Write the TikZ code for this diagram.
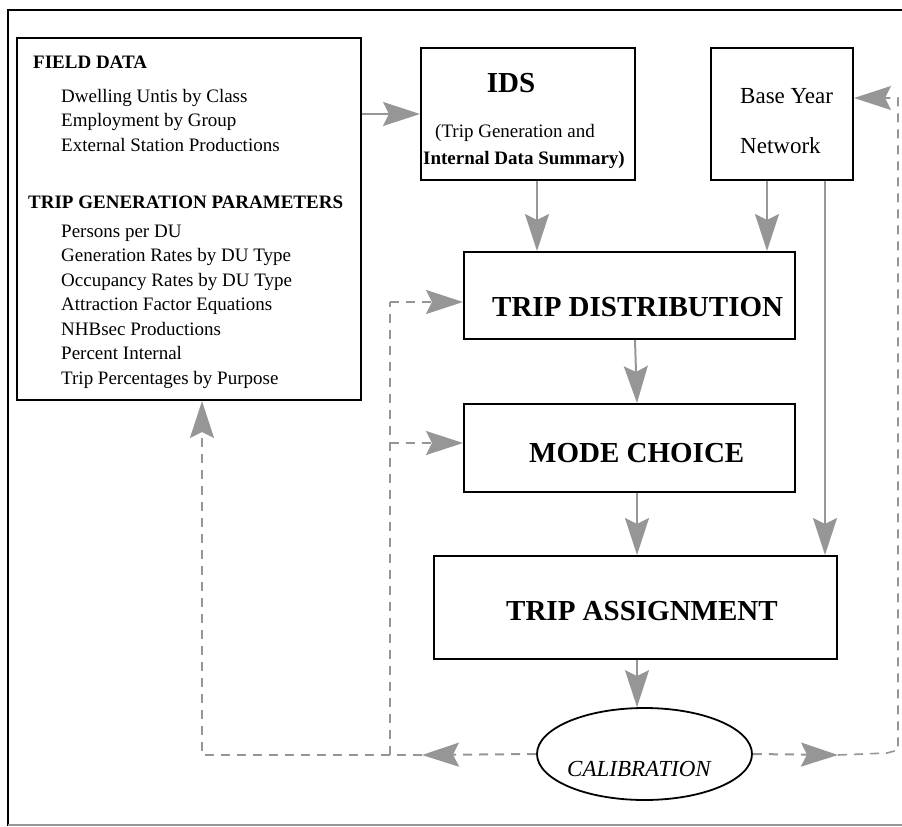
\documentclass[tikz,border=0pt]{standalone}
\usepackage{fontspec}
\setmainfont{Liberation Serif}
\usetikzlibrary{arrows.meta,shapes.geometric}
\definecolor{lgray}{RGB}{150,150,150}
\begin{document}
\begin{tikzpicture}[x=1pt,y=-1pt,
  box/.style={draw=black,line width=2pt,rectangle,inner sep=0pt},
  arr/.style={-{Stealth[length=37pt,width=24pt,inset=6pt]}},
  gl/.style={draw=lgray,line width=2pt},
  dsh/.style={gl,dash pattern=on 9pt off 7pt},
  lbl/.style={anchor=base west,inner sep=0pt,font=\fontsize{19}{19}\selectfont},
  hd/.style={anchor=base west,inner sep=0pt,font=\fontsize{19}{19}\selectfont\bfseries},
  big/.style={anchor=base west,inner sep=0pt,font=\fontsize{29}{29}\selectfont\bfseries}]
\useasboundingbox (0,0) rectangle (902,827);
% outer frame
\draw[line width=2pt] (902,10) -- (8,10) -- (8,826);
\draw[lgray,line width=2pt] (8,825) -- (902,825);
% boxes
\node[box,minimum width=344pt,minimum height=362pt] (left) at (189,219) {};
\node[box,minimum width=214pt,minimum height=132pt] (ids) at (528,114) {};
\node[box,minimum width=142pt,minimum height=132pt] (base) at (782,114) {};
\node[box,minimum width=331pt,minimum height=87pt] (td) at (629.5,295.5) {};
\node[box,minimum width=331pt,minimum height=88pt] (mc) at (629.5,448) {};
\node[box,minimum width=403pt,minimum height=103pt] (ta) at (635.5,607.5) {};
\node[draw=black,line width=1.8pt,ellipse,minimum width=215pt,minimum height=92pt,inner sep=0pt] (cal) at (644.5,754) {};
% left box text
\node[hd] (fd) at (33,68) {FIELD DATA};
\node[lbl] (f1) at (61,102) {Dwelling Untis by Class};
\node[lbl] (f2) at (61,126.5) {Employment by Group};
\node[lbl] (f3) at (61,151) {External Station Productions};
\node[hd] (tg) at (28,208) {TRIP GENERATION PARAMETERS};
\node[lbl] (t1) at (61,237) {Persons per DU};
\node[lbl] (t2) at (61,261.5) {Generation Rates by DU Type};
\node[lbl] (t3) at (61,286) {Occupancy Rates by DU Type};
\node[lbl] (t4) at (61,310.5) {Attraction Factor Equations};
\node[lbl] (t5) at (61,335) {NHBsec Productions};
\node[lbl] (t6) at (61,359.5) {Percent Internal};
\node[lbl] (t7) at (61,384) {Trip Percentages by Purpose};
% IDS text
\node[anchor=base,inner sep=0pt,font=\fontsize{29}{29}\selectfont\bfseries] (idst) at (511,92) {IDS};
\node[lbl] (ids1) at (435,137) {(Trip Generation and};
\node[hd] (ids2) at (423,164) {Internal Data Summary)};
% base year text
\node[anchor=base west,inner sep=0pt,font=\fontsize{23}{23}\selectfont] (by1) at (740,103) {Base Year};
\node[anchor=base west,inner sep=0pt,font=\fontsize{23}{23}\selectfont] (by2) at (740,153) {Network};
% main labels
\node[big] (tdt) at (492,316) {TRIP DISTRIBUTION};
\node[big] (mct) at (529,462) {MODE CHOICE};
\node[big] (tat) at (506,620) {TRIP ASSIGNMENT};
\node[anchor=base west,inner sep=0pt,font=\fontsize{23}{23}\selectfont\itshape] (calt) at (567,776) {CALIBRATION};
% helper coordinates
\coordinate (xa) at (537,0);
\coordinate (xb) at (767,0);
\coordinate (xc) at (825,0);
\coordinate (xd) at (637,0);
\coordinate (xe) at (635,0);
\coordinate (cl) at (422,755);
\coordinate (lx) at (202,755);
\coordinate (mv) at (390,755);
\coordinate (mt) at (390,302);
\coordinate (mm) at (390,443);
\coordinate (cr) at (838,755);
\coordinate (r1) at (887,753);
\coordinate (r2) at (898,750);
\coordinate (r3) at (898,98);
% solid connectors
\draw[gl,arr] (left.east |- 0,114) -- (ids.west |- 0,114);
\draw[gl,arr] (ids.south -| xa) -- (td.north -| xa);
\draw[gl,arr] (base.south -| xb) -- (td.north -| xb);
\draw[gl,arr] (base.south -| xc) -- (ta.north -| xc);
\draw[gl,arr] (td.south -| xe) -- (mc.north -| xd);
\draw[gl,arr] (mc.south -| xd) -- (ta.north -| xd);
\draw[gl,arr] (ta.south -| xd) -- (cal.north -| xd);
% dashed feedback
\draw[dsh,arr] (cal.west) -- (cl);
\draw[dsh,arr] (cl) -- (lx) -- (lx |- left.south);
\draw[dsh,line width=2.8pt] (mv) -- (mt);
\draw[dsh,arr] (mt) -- (mt -| td.west);
\draw[dsh,arr] (mm) -- (mm -| mc.west);
\draw[dsh,arr] (cal.east) -- (cr);
\draw[dsh,line width=1.6pt,arr] (cr) -- (r1) -- (r2) -- (r3) -- (r3 -| base.east);
\end{tikzpicture}
\end{document}
